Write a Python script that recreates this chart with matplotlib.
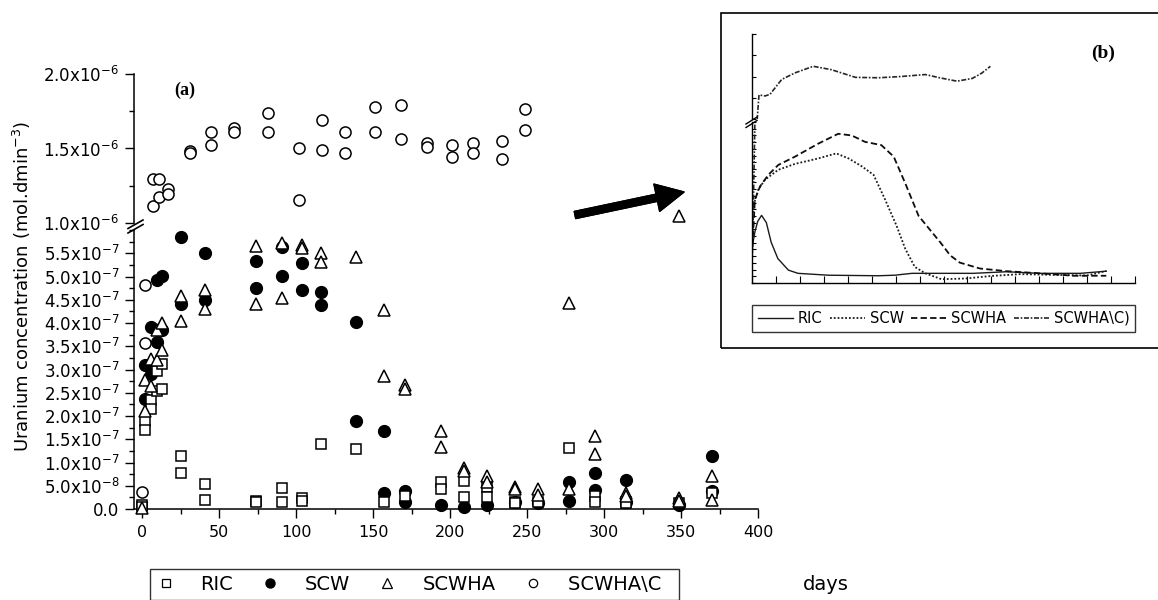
import numpy as np
import matplotlib
matplotlib.use("Agg")
import matplotlib.pyplot as plt
from matplotlib.lines import Line2D
from matplotlib.patches import Rectangle
from matplotlib.ticker import MultipleLocator, FixedLocator, FuncFormatter, NullFormatter

# all concentrations in units of 1e-7 mol.dm-3, time in days
ric_days = [0, 0, 2, 2, 6, 6, 10, 10, 13, 13, 25, 25, 41, 41, 74, 74, 91, 91, 104, 104,
            116, 139, 157, 171, 194, 194, 209, 209, 224, 224, 242, 242, 257, 277, 294, 294,
            314, 314, 349, 370]
ric = [0.09, 0.05, 1.90, 1.70, 2.35, 2.16, 2.96, 2.54, 3.12, 2.59, 1.15, 0.77, 0.53, 0.19,
       0.17, 0.14, 0.45, 0.14, 0.23, 0.18, 1.40, 1.29, 0.16, 0.27, 0.57, 0.42, 0.60, 0.25,
       0.48, 0.25, 0.14, 0.12, 0.14, 1.31, 0.27, 0.16, 0.16, 0.13, 0.12, 0.35]

scw_days = [2, 2, 6, 6, 10, 10, 13, 13, 25, 25, 41, 41, 74, 74, 91, 91, 104, 104, 116, 116,
            139, 139, 157, 157, 171, 171, 194, 209, 224, 242, 257, 277, 277, 294, 294, 314,
            314, 349, 370, 370]
scw = [3.10, 2.37, 3.91, 2.90, 4.93, 3.59, 5.01, 3.86, 5.85, 4.41, 5.51, 4.50, 5.34, 4.76,
       5.63, 5.01, 5.29, 4.72, 4.67, 4.38, 4.02, 1.90, 1.67, 0.34, 0.39, 0.16, 0.09, 0.05,
       0.08, 0.14, 0.12, 0.59, 0.18, 0.78, 0.41, 0.63, 0.14, 0.09, 1.13, 0.39]

scwha_days = [0, 2, 2, 6, 6, 10, 10, 13, 13, 25, 25, 41, 41, 74, 74, 91, 91, 104, 104, 116,
              116, 139, 157, 157, 171, 171, 194, 194, 209, 209, 224, 224, 242, 242, 257, 257,
              277, 277, 294, 294, 314, 314, 349, 349, 349, 370, 370]
scwha = [0.03, 2.77, 2.10, 3.23, 2.64, 3.86, 3.20, 4.00, 3.43, 4.58, 4.04, 4.72, 4.31, 5.65,
         4.41, 5.72, 4.54, 5.68, 5.62, 5.51, 5.32, 5.42, 4.27, 2.85, 2.66, 2.59, 1.67, 1.33,
         0.88, 0.82, 0.71, 0.59, 0.47, 0.43, 0.42, 0.30, 4.43, 0.42, 1.57, 1.19, 0.35, 0.27,
         0.23, 0.17, 10.49, 0.72, 0.19]

scwhac_days = [0, 2, 2, 7, 7, 11, 11, 17, 17, 31, 31, 45, 45, 60, 60, 82, 82, 102, 102,
               117, 117, 132, 132, 151, 151, 168, 168, 185, 185, 201, 201, 215, 215, 234, 234,
               249, 249]
scwhac = [0.36, 3.56, 4.81, 11.16, 12.93, 12.93, 11.72, 12.26, 11.93, 14.85, 14.68, 16.13,
          15.23, 16.40, 16.13, 17.40, 16.13, 15.01, 11.52, 16.91, 14.90, 16.13, 14.72, 17.80,
          16.13, 17.90, 15.62, 15.35, 15.12, 15.23, 14.45, 15.35, 14.72, 15.52, 14.32, 17.63,
          16.24]

# fitted curves of the inset (b)
ins_ric_days = [0, 3, 6, 10, 15, 20, 27, 38, 48, 80, 132, 149, 167, 188, 231, 266, 300, 343, 370]
ins_ric = [1.3, 1.9, 2.3, 2.52, 2.25, 1.52, 0.91, 0.48, 0.36, 0.29, 0.27, 0.29, 0.36, 0.36,
           0.36, 0.42, 0.36, 0.36, 0.44]
ins_scw_days = [0, 1.4, 6.6, 13.6, 27.5, 45, 69, 88, 101, 115, 127, 139, 151, 160, 170, 181,
                198, 224, 249, 280, 320, 350, 370]
ins_scw = [1.2, 2.87, 3.48, 3.85, 4.22, 4.44, 4.64, 4.83, 4.64, 4.34, 4.03, 3.11, 2.13, 1.28,
           0.60, 0.36, 0.14, 0.17, 0.26, 0.33, 0.30, 0.28, 0.45]
ins_scwha_days = [0, 3, 8.4, 17, 27.5, 45, 69, 90, 104, 118, 135, 148, 160, 174, 191, 197,
                  207, 217, 238, 266, 301, 336, 370]
ins_scwha = [1.0, 3.11, 3.60, 4.03, 4.40, 4.71, 5.19, 5.56, 5.50, 5.26, 5.14, 4.71, 3.72,
             2.50, 1.76, 1.50, 1.03, 0.76, 0.54, 0.44, 0.36, 0.27, 0.27]
ins_scwhac_days = [0, 2, 4, 5.6, 7.3, 13.6, 18.8, 31, 45, 64, 83, 108, 132, 156, 181, 196,
                   214, 230, 240, 249]
ins_scwhac = [0.5, 4.0, 8.0, 10.2, 12.83, 12.71, 12.9, 14.65, 15.43, 16.2, 15.8, 14.9, 14.85,
              15.0, 15.23, 14.85, 14.45, 14.77, 15.4, 16.2]

W, H = 1158, 600


def fx(px):
    return px / W


def fy(py):
    return 1 - py / H


def lab(v, pos=None):
    if abs(v) < 1e-9:
        return "0.0"
    if v < 1:
        return "%.1fx10$^{-8}$" % (v * 10)
    if v < 10:
        return "%.1fx10$^{-7}$" % v
    return "%.1fx10$^{-6}$" % (v / 10)


def split(days, vals, lo, hi):
    d = np.array(days, dtype=float)
    v = np.array(vals, dtype=float)
    m = (v >= lo) & (v <= hi)
    return d[m], v[m]


fig = plt.figure(figsize=(W / 100, H / 100), dpi=100)

ax_lo = fig.add_axes([fx(134), fy(509), fx(758) - fx(134), (509 - 230) / H])
ax_hi = fig.add_axes([fx(134), fy(223), fx(758) - fx(134), (223 - 74) / H])

styles = [
    ("SCW", scw_days, scw, dict(marker="o", mfc="black", mec="black", ms=8.5, mew=1.0)),
    ("RIC", ric_days, ric, dict(marker="s", mfc="white", mec="black", ms=7.5, mew=1.1)),
    ("SCWHA", scwha_days, scwha, dict(marker="^", mfc="white", mec="black", ms=9, mew=1.1)),
    ("SCWHA\\C", scwhac_days, scwhac, dict(marker="o", mfc="white", mec="black", ms=8, mew=1.1)),
]
for name, d, v, st in styles:
    dl, vl = split(d, v, -1, 6.0)
    ax_lo.plot(dl, vl, ls="none", clip_on=False, zorder=3, **st)
    dh, vh = split(d, v, 10, 20)
    ax_hi.plot(dh, vh, ls="none", clip_on=False, zorder=3, **st)

for ax in (ax_lo, ax_hi):
    ax.set_xlim(-5.2, 400)
    ax.spines["top"].set_visible(False)
    ax.spines["right"].set_visible(False)
    for s in ax.spines.values():
        s.set_linewidth(1.1)
    ax.yaxis.set_major_formatter(FuncFormatter(lab))
    ax.tick_params(which="major", direction="out", length=6.5, width=1.0, labelsize=12, pad=4)
    ax.tick_params(which="minor", direction="out", length=3.6, width=1.0)

ax_lo.set_ylim(0, 6.0)
ax_lo.yaxis.set_major_locator(FixedLocator(np.arange(0, 5.6, 0.5)))
ax_lo.yaxis.set_minor_locator(MultipleLocator(0.25))
ax_lo.xaxis.set_major_locator(MultipleLocator(50))
ax_lo.xaxis.set_minor_locator(MultipleLocator(25))
ax_lo.tick_params(axis="x", pad=5, labelsize=11.5)

ax_hi.set_ylim(10, 20)
ax_hi.yaxis.set_major_locator(FixedLocator([10, 15, 20]))
ax_hi.yaxis.set_minor_locator(FixedLocator([12.5, 17.5]))
ax_hi.spines["bottom"].set_visible(False)
ax_hi.xaxis.set_visible(False)
ax_hi.patch.set_visible(False)

# break marks on the y axis
for off in (0, 4.5):
    fig.add_artist(Line2D([fx(128), fx(143)], [fy(228.5 + off), fy(220 + off)],
                          color="black", lw=1.2))

fig.text(fx(22), fy(286), "Uranium concentration (mol.dmin$^{-3}$)", rotation=90,
         ha="center", va="center", fontsize=13)
fig.text(fx(826), fy(585), "days", ha="center", va="center", fontsize=14)
fig.text(fx(185), fy(90), "(a)", ha="center", va="center", fontsize=13,
         family="Liberation Serif", weight="bold")

handles = [Line2D([], [], ls="none", marker="s", mfc="white", mec="black", ms=6, mew=0.9),
           Line2D([], [], ls="none", marker="o", mfc="black", mec="black", ms=6.5),
           Line2D([], [], ls="none", marker="^", mfc="white", mec="black", ms=6.5, mew=0.9),
           Line2D([], [], ls="none", marker="o", mfc="white", mec="black", ms=6, mew=0.9)]
leg = fig.legend(handles, ["RIC", "SCW", "SCWHA", "SCWHA\\C  "], loc="upper left",
                 bbox_to_anchor=(fx(150), fy(569)), ncol=4, fontsize=14, frameon=True,
                 fancybox=False, edgecolor="black", handlelength=1.0, handletextpad=1.3,
                 columnspacing=1.4, borderpad=0.3, borderaxespad=0)
leg.get_frame().set_linewidth(1.0)

# arrow pointing to the inset (figure pixels are counted from the bottom)
fig.add_artist(plt.annotate("", xy=(684, H - 192), xytext=(575, H - 215),
                            xycoords="figure pixels", textcoords="figure pixels",
                            arrowprops=dict(arrowstyle="simple,head_length=1.0,head_width=1.0,tail_width=0.26",
                                            mutation_scale=20, color="black",
                                            shrinkA=0, shrinkB=0)))

# inset (b)
fig.add_artist(Rectangle((fx(721), fy(348)), fx(1165) - fx(721), (348 - 13) / H,
                         transform=fig.transFigure, fill=False, ec="black", lw=1.2,
                         clip_on=False))

in_lo = fig.add_axes([fx(752), fy(283), fx(1135) - fx(752), (283 - 122) / H])
in_hi = fig.add_axes([fx(752), fy(119), fx(1135) - fx(752), (119 - 34) / H])

curves = [
    ("RIC", ins_ric_days, ins_ric, dict(ls="-", lw=1.0, color="0.1")),
    ("SCW", ins_scw_days, ins_scw, dict(ls=(0, (1, 1.1)), lw=1.3, color="0.1")),
    ("SCWHA", ins_scwha_days, ins_scwha, dict(ls=(0, (3.5, 1.8)), lw=1.3, color="0.05")),
    ("SCWHA\\C)", ins_scwhac_days, ins_scwhac, dict(ls=(0, (3, 1, 1, 1)), lw=1.2, color="0.15")),
]
for name, d, v, st in curves:
    in_lo.plot(d, v, label=name, **st)
    in_hi.plot(d, v, **st)

for ax in (in_lo, in_hi):
    ax.set_xlim(0, 400)
    ax.spines["top"].set_visible(False)
    ax.spines["right"].set_visible(False)
    for s in ax.spines.values():
        s.set_linewidth(1.0)
    ax.yaxis.set_major_formatter(NullFormatter())
    ax.xaxis.set_major_formatter(NullFormatter())
    ax.tick_params(axis="y", direction="in", length=3, width=0.8)
    ax.tick_params(axis="x", direction="in", length=5, width=0.8)
in_lo.set_ylim(0, 6.0)
in_lo.yaxis.set_major_locator(MultipleLocator(0.25))
in_lo.xaxis.set_major_locator(MultipleLocator(25))
in_hi.set_ylim(10, 20)
in_hi.yaxis.set_major_locator(MultipleLocator(2.5))
in_hi.spines["bottom"].set_visible(False)
in_hi.xaxis.set_visible(False)
in_hi.patch.set_visible(False)

for off in (0, 3.5):
    fig.add_artist(Line2D([fx(746), fx(757)], [fy(124 + off), fy(117 + off)],
                          color="black", lw=1.0))

fig.text(fx(1103), fy(53), "(b)", ha="center", va="center", fontsize=14,
         family="Liberation Serif", weight="bold")

h, l = in_lo.get_legend_handles_labels()
leg2 = fig.legend(h, l, loc="upper left", bbox_to_anchor=(fx(752), fy(305)), ncol=4,
                  fontsize=10.5, frameon=True, fancybox=False, edgecolor="black",
                  handlelength=2.4, handletextpad=0.35, columnspacing=0.5, borderpad=0.4,
                  borderaxespad=0)
leg2.get_frame().set_linewidth(1.0)

fig.savefig("out.png", dpi=100)
